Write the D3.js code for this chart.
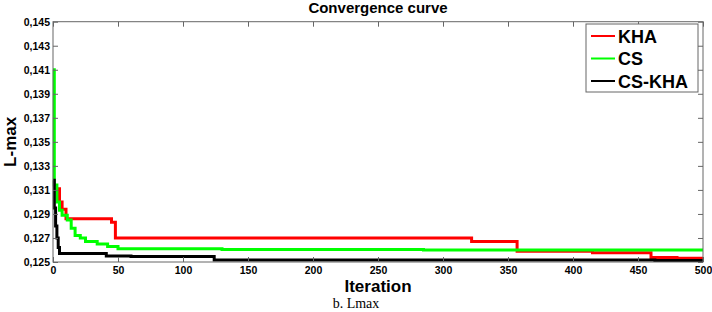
<!DOCTYPE html>
<html lang="en">
<meta charset="utf-8">
<head>
    <script src="https://d3js.org/d3.v7.min.js"></script>
    <style>
        body { margin: 0; background: #fff; }
        text { font-family: "Liberation Sans", Arial, sans-serif; }
    </style>
</head>
<body>
<div id="chart"></div>
<script>
// step points: [iteration, L-max]
const khaIter = [2, 5, 7, 10, 45, 48, 322, 357, 415, 460, 480, 500];
const khaVal  = [0.1311, 0.1300, 0.1294, 0.1286, 0.1283, 0.1270, 0.1267, 0.1259, 0.12578, 0.12537, 0.12532, 0.12532];

const csIter = [0, 1, 3, 5, 7, 11, 14, 17, 21, 25, 34, 42, 50, 130, 285, 500];
const csVal  = [0.1410, 0.1314, 0.1300, 0.1293, 0.1289, 0.1285, 0.1278, 0.1272, 0.1270, 0.1267, 0.1265, 0.1263, 0.1261, 0.12605, 0.1260, 0.1260];

const hybIter = [0, 1, 2, 3, 4, 5, 41, 60, 124, 463, 500];
const hybVal  = [0.1318, 0.1295, 0.1280, 0.1270, 0.1262, 0.1257, 0.1255, 0.12545, 0.12517, 0.12512, 0.12512];

const xTicks = [0, 50, 100, 150, 200, 250, 300, 350, 400, 450, 500];
const yTicks = [0.125, 0.127, 0.129, 0.131, 0.133, 0.135, 0.137, 0.139, 0.141, 0.143, 0.145];

const series = [
    {name: "KHA", color: "#ff0000", iter: khaIter, val: khaVal},
    {name: "CS", color: "#00ff00", iter: csIter, val: csVal},
    {name: "CS-KHA", color: "#000000", iter: hybIter, val: hybVal}
];

const width = 712, height = 312;
const plotL = 53, plotR = 703, plotT = 21.7, plotB = 262;

const svg = d3.select("#chart").append("svg")
    .attr("width", width)
    .attr("height", height);

const x = d3.scaleLinear().domain([0, 500]).range([plotL, plotR]);
const y = d3.scaleLinear().domain([0.125, 0.145]).range([plotB, plotT]);

const fmt = d => d3.format(".3f")(d).replace(".", ",");

// lines
const line = d3.line()
    .x(d => x(d[0]))
    .y(d => y(d[1]))
    .curve(d3.curveStepAfter);

series.forEach(s => {
    const pts = s.iter.map((it, i) => [it, s.val[i]]);
    svg.append("path")
        .datum(pts)
        .attr("fill", "none")
        .attr("stroke", s.color)
        .attr("stroke-width", 3)
        .attr("d", line);
});

// box axes, ticks inside
const axisColor = "#666";
function styleAxis(g, showText) {
    g.select(".domain").remove();
    g.selectAll(".tick line").attr("stroke", axisColor);
    g.selectAll(".tick text")
        .attr("fill", "#000")
        .style("font-weight", "bold")
        .style("font-size", "10.5px");
    if (!showText) g.selectAll(".tick text").remove();
}

svg.append("g")
    .attr("transform", "translate(0," + plotB + ")")
    .call(d3.axisBottom(x).tickValues(xTicks).tickSize(-5).tickPadding(5))
    .call(g => styleAxis(g, true));
svg.append("g")
    .attr("transform", "translate(0," + plotT + ")")
    .call(d3.axisTop(x).tickValues(xTicks).tickSize(-5))
    .call(g => styleAxis(g, false));
svg.append("g")
    .attr("transform", "translate(" + plotL + ",0)")
    .call(d3.axisLeft(y).tickValues(yTicks).tickFormat(fmt).tickSize(-5).tickPadding(3))
    .call(g => styleAxis(g, true));
svg.append("g")
    .attr("transform", "translate(" + plotR + ",0)")
    .call(d3.axisRight(y).tickValues(yTicks).tickSize(-5))
    .call(g => styleAxis(g, false));

svg.append("rect")
    .attr("x", plotL).attr("y", plotT)
    .attr("width", plotR - plotL).attr("height", plotB - plotT)
    .attr("fill", "none")
    .attr("stroke", axisColor)
    .attr("stroke-width", 1);

// titles
svg.append("text")
    .attr("x", (plotL + plotR) / 2).attr("y", 13)
    .attr("text-anchor", "middle")
    .style("font-weight", "bold").style("font-size", "15px")
    .text("Convergence curve");

svg.append("text")
    .attr("x", (plotL + plotR) / 2).attr("y", 292)
    .attr("text-anchor", "middle")
    .style("font-weight", "bold").style("font-size", "17px")
    .text("Iteration");

svg.append("text")
    .attr("transform", "translate(16," + (plotT + plotB) / 2 + ") rotate(-90)")
    .attr("text-anchor", "middle")
    .style("font-weight", "bold").style("font-size", "17px")
    .text("L-max");

svg.append("text")
    .attr("x", 356).attr("y", 308)
    .attr("text-anchor", "middle")
    .style("font-family", "'Liberation Serif', 'Times New Roman', serif")
    .style("font-size", "14px")
    .text("b. Lmax");

// legend
const lg = svg.append("g").attr("transform", "translate(586,24)");
lg.append("rect")
    .attr("width", 112).attr("height", 68)
    .attr("fill", "#fff")
    .attr("stroke", axisColor);
series.forEach((s, i) => {
    const yy = 12 + i * 22.5;
    lg.append("line")
        .attr("x1", 5).attr("x2", 29)
        .attr("y1", yy).attr("y2", yy)
        .attr("stroke", s.color).attr("stroke-width", 2);
    lg.append("text")
        .attr("x", 32).attr("y", yy + 6.5)
        .style("font-weight", "bold").style("font-size", "18px")
        .text(s.name);
});
</script>
</body>
</html>
